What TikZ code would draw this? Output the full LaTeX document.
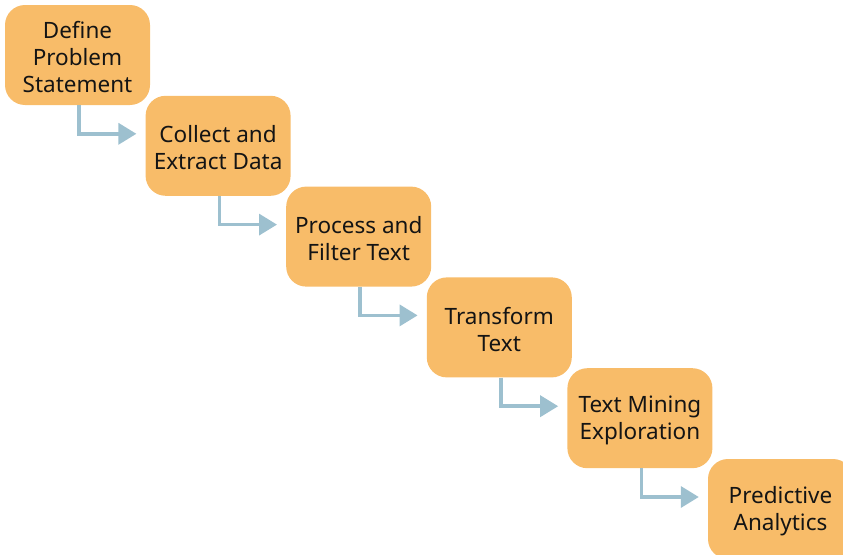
\documentclass[tikz,border=0pt]{standalone}
\usepackage{fontspec}
\setmainfont{Noto Sans}
\usetikzlibrary{arrows.meta}
\definecolor{boxfill}{HTML}{F8BC69}
\definecolor{conncol}{HTML}{9DC0CF}
\definecolor{txt}{HTML}{141414}
\tikzset{
  stepbox/.style={fill=boxfill, draw=none, rounded corners=20pt,
    minimum width=145pt, minimum height=100pt, inner sep=0pt,
    align=center, text=txt, font=\fontsize{22.5pt}{27pt}\selectfont},
  conn/.style={draw=conncol, line width=3.5pt,
    -{Triangle[length=18pt,width=21pt]}}
}
\begin{document}
\begin{tikzpicture}[x=1pt,y=-1pt]
\useasboundingbox (0,0) rectangle (843,554);
\foreach \i/\n/\t in {0/b1/{Define\\Problem\\Statement},
                      1/b2/{Collect and\\Extract Data},
                      2/b3/{Process and\\Filter Text},
                      3/b4/{Transform\\Text},
                      4/b5/{Text Mining\\Exploration},
                      5/b6/{Predictive\\Analytics}}{
  \node[stepbox] (\n) at (77.5+\i*140.6,55+\i*90.8) {};
  \node[align=center, text=txt, font=\fontsize{22.5pt}{27pt}\selectfont,
        inner sep=0pt] (\n t) at ([yshift=-2pt]\n.center) {\t};
}
\foreach \a/\b in {b1/b2,b2/b3,b3/b4,b4/b5,b5/b6}{
  \draw[conn] ([xshift=1.5pt]\a.south) |- ([xshift=-9pt,yshift=12pt]\b.west);
}
\end{tikzpicture}
\end{document}
